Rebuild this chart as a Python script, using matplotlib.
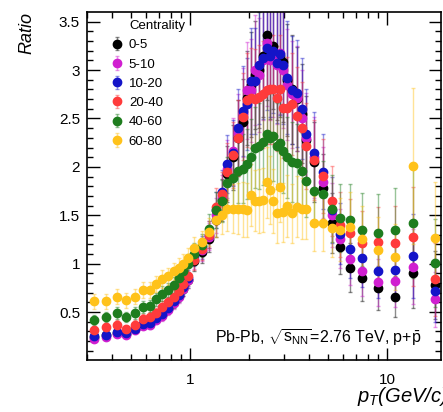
import numpy as np
import matplotlib.pyplot as plt
from matplotlib.colors import to_rgba
from matplotlib.ticker import NullFormatter, FixedLocator

plt.rcParams['font.family'] = ['Liberation Sans', 'DejaVu Sans']
plt.rcParams['mathtext.fontset'] = 'custom'
plt.rcParams['mathtext.rm'] = 'Liberation Sans'
plt.rcParams['mathtext.it'] = 'Liberation Sans:italic'

# pT bin centres (GeV/c)
pt = [0.325, 0.375, 0.425, 0.475, 0.525, 0.575, 0.625, 0.675, 0.725, 0.775,
      0.825, 0.875, 0.925, 0.975,
      1.05, 1.15, 1.25, 1.35, 1.45, 1.55, 1.65, 1.75, 1.85, 1.95,
      2.05, 2.15, 2.25, 2.35, 2.45, 2.55, 2.65, 2.75, 2.85, 2.95,
      3.1, 3.3, 3.5, 3.7, 3.9,
      4.25, 4.75, 5.25, 5.75, 6.5, 7.5, 9.0, 11.0, 13.5, 17.5]

# relative uncertainty per bin
rel_err = [0.12, 0.12, 0.12, 0.12, 0.12, 0.11, 0.11, 0.11, 0.11, 0.10,
           0.10, 0.10, 0.10, 0.10,
           0.10, 0.10, 0.11, 0.12, 0.13, 0.15, 0.16, 0.17, 0.18, 0.18,
           0.19, 0.19, 0.20, 0.20, 0.20, 0.20, 0.20, 0.20, 0.20, 0.20,
           0.20, 0.20, 0.20, 0.20, 0.20,
           0.20, 0.20, 0.22, 0.24, 0.26, 0.28, 0.30, 0.32, 0.40, 0.45]

r_0_5 = [0.24, 0.26, 0.28, 0.27, 0.33, 0.37, 0.38, 0.43, 0.47, 0.53,
         0.60, 0.67, 0.74, 0.83,
         1.03, 1.12, 1.26, 1.45, 1.66, 1.93, 2.10, 2.30, 2.46, 2.71,
         2.85, 2.95, 3.00, 3.15, 3.36, 3.12, 3.25, 3.10, 3.15, 3.08,
         2.90, 2.80, 2.70, 2.55, 2.28,
         2.05, 1.78, 1.42, 1.17, 0.96, 0.85, 0.75, 0.66, 0.90, 0.78]

r_5_10 = [0.22, 0.24, 0.27, 0.26, 0.31, 0.36, 0.37, 0.42, 0.46, 0.52,
          0.59, 0.66, 0.74, 0.83,
          1.05, 1.14, 1.28, 1.50, 1.70, 1.98, 2.16, 2.35, 2.56, 2.79,
          2.79, 3.00, 2.95, 3.10, 3.28, 3.10, 3.15, 3.05, 3.18, 3.00,
          2.85, 2.75, 2.71, 2.50, 2.30,
          2.10, 1.84, 1.50, 1.26, 1.05, 0.92, 0.81, 0.82, 0.97, 0.63]

r_10_20 = [0.25, 0.26, 0.29, 0.28, 0.33, 0.38, 0.39, 0.44, 0.48, 0.54,
           0.61, 0.68, 0.76, 0.85,
           1.08, 1.17, 1.30, 1.55, 1.74, 2.03, 2.14, 2.40, 2.58, 2.65,
           2.89, 2.89, 3.05, 3.12, 3.23, 3.15, 3.20, 3.07, 3.17, 3.05,
           2.92, 2.79, 2.76, 2.60, 2.34,
           2.14, 1.95, 1.55, 1.31, 1.15, 1.06, 0.92, 0.93, 1.08, 0.72]

r_20_40 = [0.32, 0.35, 0.37, 0.33, 0.37, 0.43, 0.45, 0.49, 0.55, 0.60,
           0.66, 0.72, 0.79, 0.87,
           1.04, 1.15, 1.30, 1.59, 1.72, 1.95, 2.12, 2.30, 2.52, 2.69,
           2.71, 2.70, 2.72, 2.75, 2.79, 2.80, 2.80, 2.71, 2.80, 2.61,
           2.61, 2.65, 2.53, 2.40, 2.22,
           2.07, 1.91, 1.65, 1.40, 1.32, 1.21, 1.22, 1.21, 1.28, 0.84]

r_40_60 = [0.42, 0.45, 0.49, 0.45, 0.49, 0.55, 0.56, 0.63, 0.69, 0.73,
           0.78, 0.85, 0.92, 1.00,
           1.10, 1.19, 1.36, 1.55, 1.65, 1.83, 1.88, 1.96, 1.98, 2.03,
           2.10, 2.20, 2.22, 2.26, 2.34, 2.30, 2.32, 2.22, 2.25, 2.16,
           2.10, 2.05, 2.04, 1.96, 1.85,
           1.75, 1.72, 1.57, 1.47, 1.45, 1.35, 1.32, 1.35, 1.42, 1.01]

r_60_80 = [0.61, 0.61, 0.66, 0.62, 0.66, 0.73, 0.73, 0.79, 0.84, 0.87,
           0.92, 0.96, 1.00, 1.06,
           1.16, 1.22, 1.33, 1.45, 1.50, 1.57, 1.57, 1.57, 1.56, 1.55,
           1.71, 1.65, 1.65, 1.66, 1.84, 1.76, 1.65, 1.52, 1.79, 1.53,
           1.60, 1.52, 1.59, 1.57, 1.57,
           1.42, 1.42, 1.37, 1.35, 1.38, 1.25, 1.14, 1.07, 2.01, 1.27]

labels = ['0-5', '5-10', '10-20', '20-40', '40-60', '60-80']
series = [r_0_5, r_5_10, r_10_20, r_20_40, r_40_60, r_60_80]
colors = ['#000000', '#d01fd0', '#1414c8', '#ff3b3b', '#1e7d1e', '#ffc21a']

fig = plt.figure(figsize=(4.43, 4.12), dpi=100)
ax = fig.add_axes([87/443, 1 - 360/412, 354/443, 348/412])

handles = []
for vals, col in zip(series, colors):
    vals = np.array(vals)
    h = ax.errorbar(pt, vals, yerr=vals * np.array(rel_err), fmt='o', ms=6,
                    color=col, mec=col, ecolor=to_rgba(col, 0.45),
                    elinewidth=1, capsize=1.2)
    handles.append(h)

ax.set_xscale('log')
ax.set_xlim(0.3, 18.8)
ax.set_ylim(0.005, 3.6)

ax.set_xticks([1, 10])
ax.set_xticklabels(['1', '10'])
ax.xaxis.set_minor_formatter(NullFormatter())
ax.set_yticks([0.5, 1, 1.5, 2, 2.5, 3, 3.5])
ax.set_yticklabels(['0.5', '1', '1.5', '2', '2.5', '3', '3.5'])
ax.yaxis.set_minor_locator(FixedLocator(np.arange(0.1, 3.6, 0.1)))

ax.tick_params(which='both', direction='in', top=True, right=True, width=1)
ax.tick_params(which='major', length=9, labelsize=11)
ax.tick_params(axis='x', which='major', pad=9)
ax.tick_params(axis='y', which='major', pad=5)
ax.tick_params(which='minor', length=4.5)
for s in ax.spines.values():
    s.set_linewidth(1.2)

ax.legend(handles, labels, loc='upper left', bbox_to_anchor=(0.066, 0.922),
          frameon=False, fontsize=9.5, handlelength=1.0, handletextpad=0.4,
          labelspacing=0.53, borderaxespad=0, borderpad=0)
ax.text(0.1186, 0.960, 'Centrality', transform=ax.transAxes, fontsize=9.5,
        ha='left', va='center')

ax.text(0.654, 0.063, r'Pb-Pb, $\sqrt{\mathrm{s}_{\mathrm{NN}}}$=2.76 TeV, p+$\bar{\mathrm{p}}$',
        transform=ax.transAxes, ha='center', va='center', fontsize=11.5)

fig.text(27/443, 1 - 12/412, 'Ratio', rotation=90, ha='center', va='top',
         style='italic', fontsize=13)
fig.text(357/443, 1 - 397/412, r'$p_{T}$(GeV/c)', style='italic',
         ha='left', va='center', fontsize=14.5)

fig.savefig('out.png', dpi=100)
